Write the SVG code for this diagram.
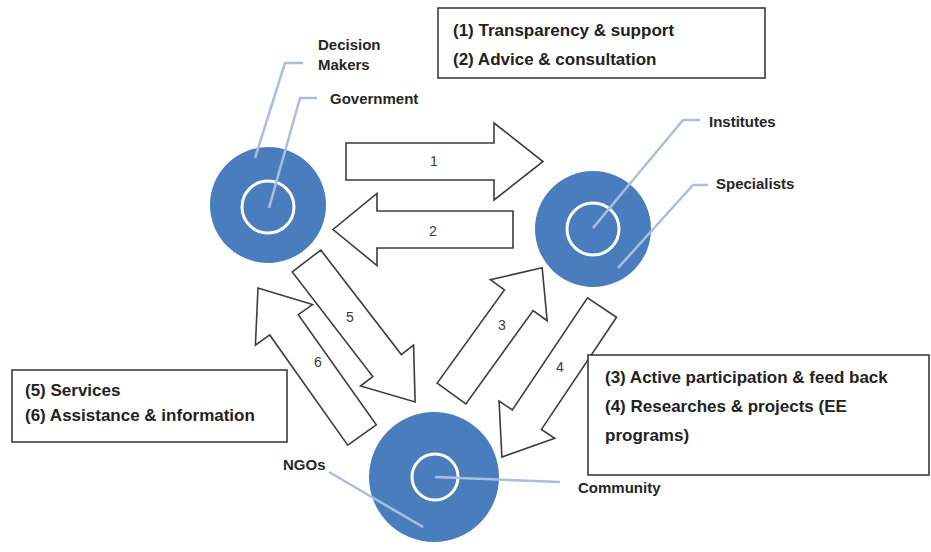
<svg xmlns="http://www.w3.org/2000/svg" width="931" height="552" viewBox="0 0 931 552">
  <style>
    .ring { fill: #4a7dbd; }
    .core { fill: none; stroke: #ffffff; stroke-width: 3; }
    .lead { fill: none; stroke: #a9bfde; stroke-width: 2.5; stroke-linejoin: round; }
    .arrow { fill: #ffffff; stroke: #3c3c3c; stroke-width: 1.6; stroke-linejoin: miter; }
    .num { font-family: "Liberation Sans", Arial, sans-serif; font-size: 14px; fill: #3a3a3a; text-anchor: middle; }
    .tag { font-family: "Liberation Sans", Arial, sans-serif; font-size: 15px; font-weight: bold; fill: #262626; }
    .box { fill: #ffffff; stroke: #3c3c3c; stroke-width: 1.6; }
    .legend { font-family: "Liberation Sans", Arial, sans-serif; font-size: 17px; font-weight: bold; fill: #222222; }
  </style>
  <rect width="931" height="552" fill="#ffffff"/>

  <!-- block arrows between the three actors -->
  <g id="connectors">
    <g transform="translate(346,161.5)">
      <polygon class="arrow" points="0,-18.5 148,-18.5 148,-38.5 197,0 148,38.5 148,18.5 0,18.5"/>
    </g>
    <g transform="translate(513,229.5) rotate(180)">
      <polygon class="arrow" points="0,-18.5 136,-18.5 136,-36 180,0 136,36 136,18.5 0,18.5"/>
    </g>
    <g transform="translate(306.5,261) rotate(52.4)">
      <polygon class="arrow" points="0,-18 132,-18 132,-33.5 178,0 132,33.5 132,18 0,18"/>
    </g>
    <g transform="translate(362,435) rotate(-125.3)">
      <polygon class="arrow" points="0,-17.5 135,-17.5 135,-35 180,0 135,35 135,17.5 0,17.5"/>
    </g>
    <g transform="translate(451.5,393.5) rotate(-54.2)">
      <polygon class="arrow" points="0,-17.7 115,-17.7 115,-35 155,0 115,35 115,17.7 0,17.7"/>
    </g>
    <g transform="translate(602,307.5) rotate(123.8)">
      <polygon class="arrow" points="0,-17.5 135,-17.5 135,-33.5 180,0 135,33.5 135,17.5 0,17.5"/>
    </g>
    <text class="num" x="434" y="166">1</text>
    <text class="num" x="433" y="236">2</text>
    <text class="num" x="502" y="330">3</text>
    <text class="num" x="560" y="372">4</text>
    <text class="num" x="350" y="322">5</text>
    <text class="num" x="318" y="367">6</text>
  </g>

  <!-- government / decision makers -->
  <g id="decision-makers">
    <circle class="ring" cx="268" cy="205" r="58"/>
    <circle class="core" cx="268" cy="207" r="26"/>
    <polyline class="lead" points="255,158 285,63 303,63"/>
    <polyline class="lead" points="269,208 300,98 317,98"/>
    <text class="tag" x="318" y="50">Decision</text>
    <text class="tag" x="318" y="70">Makers</text>
    <text class="tag" x="330" y="104">Government</text>
  </g>

  <!-- institutes / specialists -->
  <g id="institutes">
    <circle class="ring" cx="593" cy="229" r="58"/>
    <circle class="core" cx="593" cy="229" r="26"/>
    <polyline class="lead" points="593,228 683,120 700,120"/>
    <polyline class="lead" points="618,268 693,185 708,185"/>
    <text class="tag" x="709" y="127">Institutes</text>
    <text class="tag" x="716" y="189">Specialists</text>
  </g>

  <!-- community / NGOs -->
  <g id="community">
    <circle class="ring" cx="434" cy="477" r="65"/>
    <circle class="core" cx="435" cy="477" r="23"/>
    <polyline class="lead" points="435,477 560,482"/>
    <polyline class="lead" points="329,472 423,527"/>
    <text class="tag" x="578" y="493">Community</text>
    <text class="tag" x="283" y="470">NGOs</text>
  </g>

  <!-- legends -->
  <g id="legend-1-2">
    <rect class="box" x="438" y="8" width="327" height="70"/>
    <text class="legend" x="453" y="36">(1) Transparency &amp; support</text>
    <text class="legend" x="453" y="65">(2) Advice &amp; consultation</text>
  </g>
  <g id="legend-3-4">
    <rect class="box" x="588" y="355" width="341" height="120"/>
    <text class="legend" x="605" y="383">(3) Active participation &amp; feed back</text>
    <text class="legend" x="605" y="412">(4) Researches &amp; projects (EE</text>
    <text class="legend" x="605" y="441">programs)</text>
  </g>
  <g id="legend-5-6">
    <rect class="box" x="12" y="370" width="275" height="72"/>
    <text class="legend" x="25" y="396">(5) Services</text>
    <text class="legend" x="25" y="421">(6) Assistance &amp; information</text>
  </g>
</svg>
